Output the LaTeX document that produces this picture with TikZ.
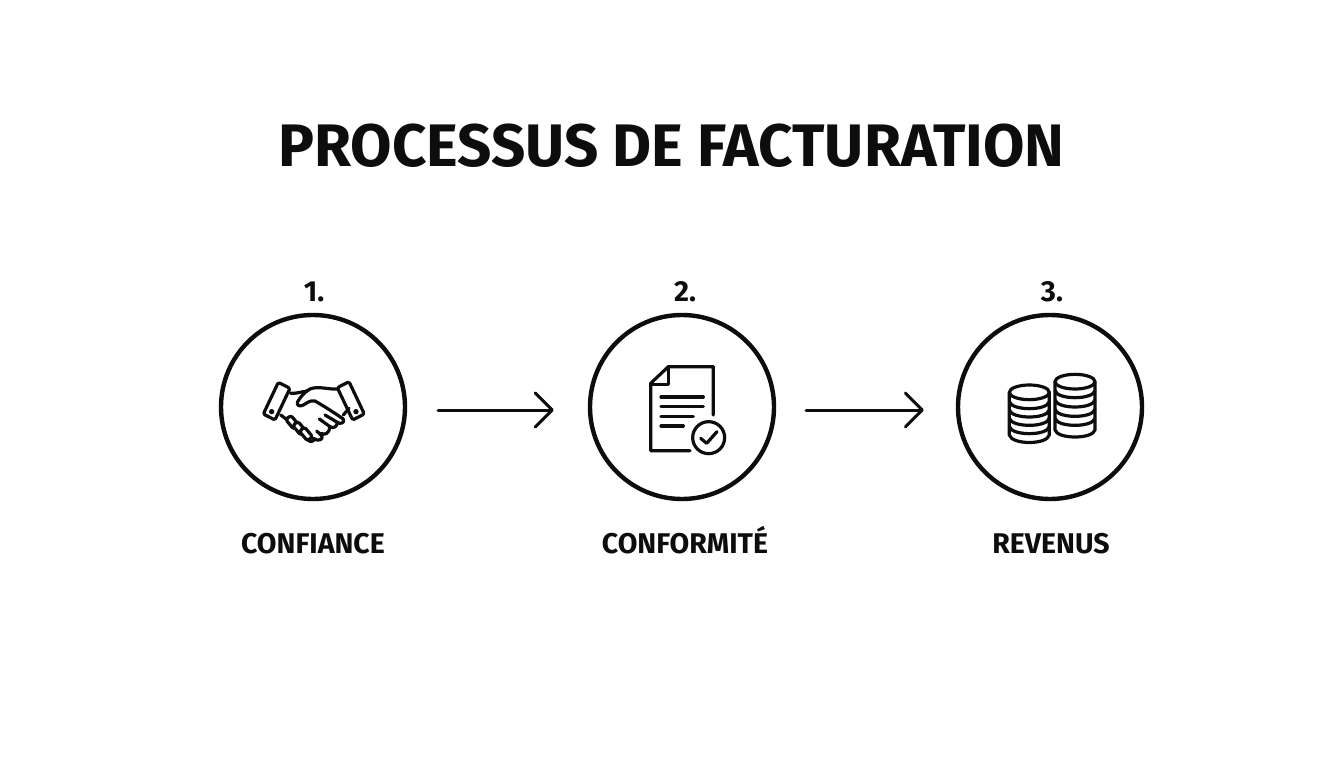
\documentclass[tikz,border=0pt]{standalone}
\usepackage{fontspec}
\setmainfont{Fira Sans}
\usetikzlibrary{arrows.meta}
\definecolor{ink}{HTML}{0D0D0D}
\tikzset{
  ring/.style={circle,draw=ink,line width=4.4pt,minimum size=184pt,inner sep=0pt},
  flow/.style={draw=ink,line width=3pt,line cap=round,-{Straight Barb[length=17pt,width=34pt,round]}},
  ico/.style={draw=ink,line width=3.2pt,line cap=round,line join=round},
  title/.style={font=\fontsize{60}{64}\selectfont\bfseries,text=ink,inner sep=0pt,anchor=base},
  num/.style={font=\fontsize{29}{32}\selectfont\bfseries,text=ink,inner sep=0pt,anchor=base},
  lab/.style={font=\fontsize{28.5}{32}\selectfont\bfseries,text=ink,inner sep=0pt,anchor=base},
  zoomed/.style={x=0.3333pt,y=-0.3333pt}
}
\begin{document}
\begin{tikzpicture}[x=1pt,y=-1pt]
\useasboundingbox (0,0) rectangle (1344,768);
\fill[white] (0,0) rectangle (1344,768);
\node[title] (t) at (671.5,166) {PROCESSUS DE FACTURATION};
\node[ring] (c1) at (313,407) {};
\node[ring] (c2) at (682,407) {};
\node[ring] (c3) at (1050,407) {};
\node[num] (n1) at (314,301) {1.};
\node[num] (n2) at (685,301) {2.};
\node[num] (n3) at (1052,301) {3.};
\node[lab] (l1) at (313,553) {CONFIANCE};
\node[lab] (l2) at (685,553) {CONFORMITÉ};
\node[lab] (l3) at (1051,553) {REVENUS};
\draw[flow,shorten <=31pt,shorten >=34pt] ([yshift=-3pt]c1.east) -- ([yshift=-3pt]c2.west);
\draw[flow,shorten <=30pt,shorten >=32pt] ([yshift=-3pt]c2.east) -- ([yshift=-3pt]c3.west);
% handshake
\begin{scope}[shift={(250,365)},zoomed]
\draw[ico,rounded corners=1.5pt] (85,52) -- (120,70) -- (75,165) -- (40,147) -- cycle;
\draw[ico,rounded corners=1.5pt] (262,68) -- (297,50) -- (343,147) -- (308,165) -- cycle;
\fill[ink] (65,140) circle (8); \fill[ink] (318,140) circle (8);
\draw[ico] (122,85) .. controls (140,86) and (155,80) .. (172,78);
\draw[ico] (262,72) .. controls (235,74) and (205,62) .. (180,72) .. controls (165,80) and (152,95) .. (143,110) .. controls (138,122) and (150,126) .. (160,120) .. controls (172,113) and (182,105) .. (195,108) .. controls (225,125) and (255,145) .. (280,162);
\draw[ico] (297,130) -- (280,150);
\draw[ico] (92,150) -- (112,165);
\draw[ico] (280,162) .. controls (285,175) and (270,178) .. (262,172);
\draw[ico] (262,172) .. controls (262,185) and (250,192) .. (240,185);
\draw[ico] (262,172) -- (225,150);
\draw[ico] (240,185) -- (208,162);
\draw[ico] (240,185) .. controls (238,205) and (225,212) .. (212,205);
\draw[ico] (200,198) -- (215,212) .. controls (222,222) and (205,232) .. (190,220);
\foreach \cx/\cy in {127/172,148/190,168/207} {
  \draw[ico,fill=white,rounded corners=2.5pt,rotate around={40:(\cx,\cy)}] ({\cx-10},{\cy-19}) rectangle ({\cx+10},{\cy+19});
}
\draw[ico] (172,222) .. controls (178,232) and (188,232) .. (195,222);
\end{scope}
% document
\begin{scope}[shift={(635,355)},zoomed]
\draw[ico] (165,287) -- (47,287) -- (47,85) -- (100,35) -- (235,35) -- (235,180);
\draw[ico] (100,35) -- (100,88) -- (47,88);
\draw[ico] (78,126) -- (205,126);
\draw[ico] (78,155) -- (205,155);
\draw[ico] (78,184) -- (175,184);
\draw[ico] (78,213) -- (145,213);
\draw[ico] (221,248) circle (48);
\draw[ico] (197,250) -- (215,265) -- (246,230);
\end{scope}
% coins
\begin{scope}[shift={(995,360)},zoomed]
\draw[ico] (103,97) ellipse (60 and 22);
\draw[ico] (43,97) -- (43,225) .. controls (50,255) and (156,255) .. (163,225) -- (163,97);
\foreach \y in {125,150,175,200} {
  \draw[ico] (43,\y) .. controls (50,{\y+28}) and (156,{\y+28}) .. (163,\y);
}
\draw[ico] (240,65) ellipse (60 and 22);
\draw[ico] (180,65) -- (180,210) .. controls (187,238) and (293,238) .. (300,210) -- (300,65);
\foreach \y in {92,120,148,175} {
  \draw[ico] (180,\y) .. controls (187,{\y+28}) and (293,{\y+28}) .. (300,\y);
}
\end{scope}
\end{tikzpicture}
\end{document}
